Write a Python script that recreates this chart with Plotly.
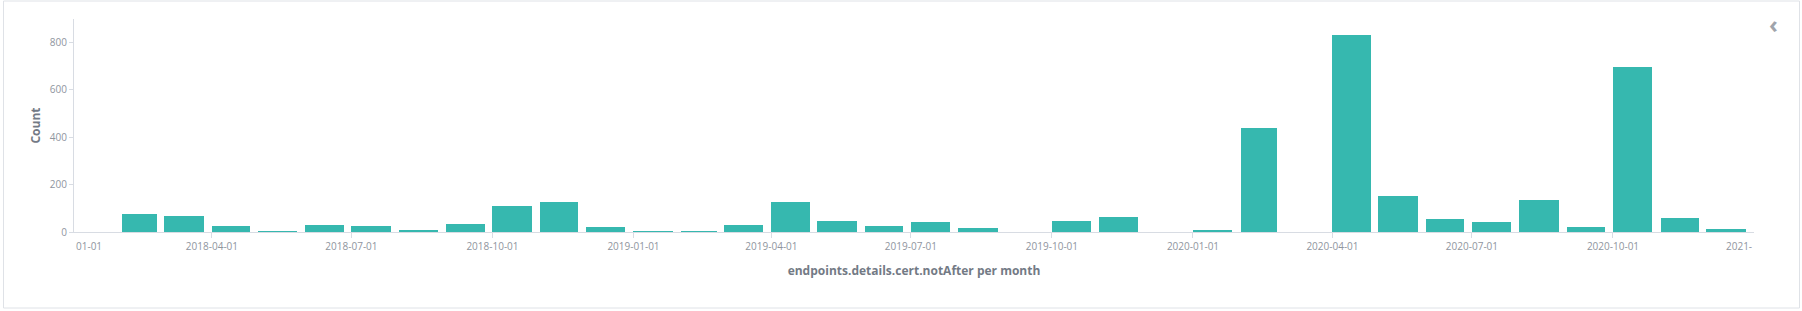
import calendar
import plotly.graph_objects as go

# ---- data -------------------------------------------------------------
months = [
    "2018-01", "2018-02", "2018-03", "2018-04", "2018-05", "2018-06",
    "2018-07", "2018-08", "2018-09", "2018-10", "2018-11", "2018-12",
    "2019-01", "2019-02", "2019-03", "2019-04", "2019-05", "2019-06",
    "2019-07", "2019-08", "2019-09", "2019-10", "2019-11", "2019-12",
    "2020-01", "2020-02", "2020-03", "2020-04", "2020-05", "2020-06",
    "2020-07", "2020-08", "2020-09", "2020-10", "2020-11", "2020-12",
]
counts = [
    0, 75, 66, 25, 4, 28,
    27, 10, 32, 108, 125, 23,
    4, 2, 28, 125, 45, 24,
    41, 18, 0, 45, 62, 0,
    8, 439, 0, 831, 150, 54,
    41, 134, 20, 695, 58, 11,
]
tick_dates = ["2018-04-01", "2018-07-01", "2018-10-01", "2019-01-01",
              "2019-04-01", "2019-07-01", "2019-10-01", "2020-01-01",
              "2020-04-01", "2020-07-01", "2020-10-01"]
edge_labels = ["01-01", "2021-"]
y_ticks = [0, 200, 400, 600, 800]
x_title = "endpoints.details.cert.notAfter per month"
y_title = "Count"

# ---- geometry ----------------------------------------------------------
W, H = 1802, 311
ML, MR, MT, MB = 74, 48, 19, 79
PW, PH = W - ML - MR, H - MT - MB
DAY_MS = 86400000


def px(x):
    return (x - ML) / PW


def py(y):
    return (H - MB - y) / PH


starts = [m + "-01" for m in months]
widths = []
for m in months:
    yy, mm = int(m[:4]), int(m[5:])
    widths.append(calendar.monthrange(yy, mm)[1] * 0.83 * DAY_MS)

BAR = "#36b8af"
TICK_C = "#8f959e"
TITLE_C = "#737a85"
LINE_C = "#d8dce3"
FONT = "Open Sans"

fig = go.Figure()
fig.add_trace(go.Bar(
    x=starts, y=counts, width=widths, offset=0,
    marker=dict(color=BAR, line=dict(width=0)),
    name="Count",
))

fig.update_layout(
    width=W, height=H, autosize=False,
    margin=dict(l=ML, r=MR, t=MT, b=MB, pad=0),
    paper_bgcolor="white", plot_bgcolor="white",
    showlegend=False,
    font=dict(family=FONT, size=10, color=TICK_C),
    bargap=0,
)

fig.update_xaxes(
    type="date",
    range=["2018-01-01", "2021-01-01"],
    tickvals=tick_dates,
    ticktext=tick_dates,
    ticks="outside", ticklen=5, tickcolor=LINE_C, tickwidth=1,
    showline=True, linecolor=LINE_C, linewidth=1,
    showgrid=False, zeroline=False,
    tickfont=dict(family=FONT, size=10, color=TICK_C),
    title=dict(text=x_title, standoff=14,
               font=dict(family=FONT, size=12, color=TITLE_C, weight=700)),
)
fig.update_yaxes(
    range=[0, 897],
    tickvals=y_ticks,
    ticks="outside", ticklen=4, tickcolor=LINE_C, tickwidth=1,
    showline=True, linecolor=LINE_C, linewidth=1,
    showgrid=False, zeroline=False,
    tickfont=dict(family=FONT, size=10, color=TICK_C),
    title=dict(text=y_title, standoff=6,
               font=dict(family=FONT, size=12, color=TITLE_C, weight=700)),
)

# clipped edge tick labels (as in the reference)
fig.add_annotation(x="2018-01-01", xref="x", y=0, yref="y", yshift=-14,
                   text=edge_labels[0], showarrow=False, xanchor="left",
                   yanchor="middle",
                   font=dict(family=FONT, size=10, color=TICK_C))
fig.add_annotation(x="2021-01-01", xref="x", y=0, yref="y", yshift=-14,
                   text=edge_labels[1], showarrow=False, xanchor="right",
                   yanchor="middle",
                   font=dict(family=FONT, size=10, color=TICK_C))

# collapse chevron
fig.add_annotation(x=px(1773), xref="paper", y=py(23), yref="paper",
                   text="<b>‹</b>", showarrow=False,
                   xanchor="center", yanchor="middle",
                   font=dict(family=FONT, size=24, color="#a0a4ab"))

# panel card border
x0, x1, y0, y1 = px(3.5), px(1799.5), py(1), py(308)
fig.add_shape(type="rect", xref="paper", yref="paper",
              x0=x0, x1=x1, y0=y1, y1=y0,
              line=dict(color="#dfe2e7", width=1), fillcolor="rgba(0,0,0,0)",
              layer="below")

fig.write_html("out.html")
